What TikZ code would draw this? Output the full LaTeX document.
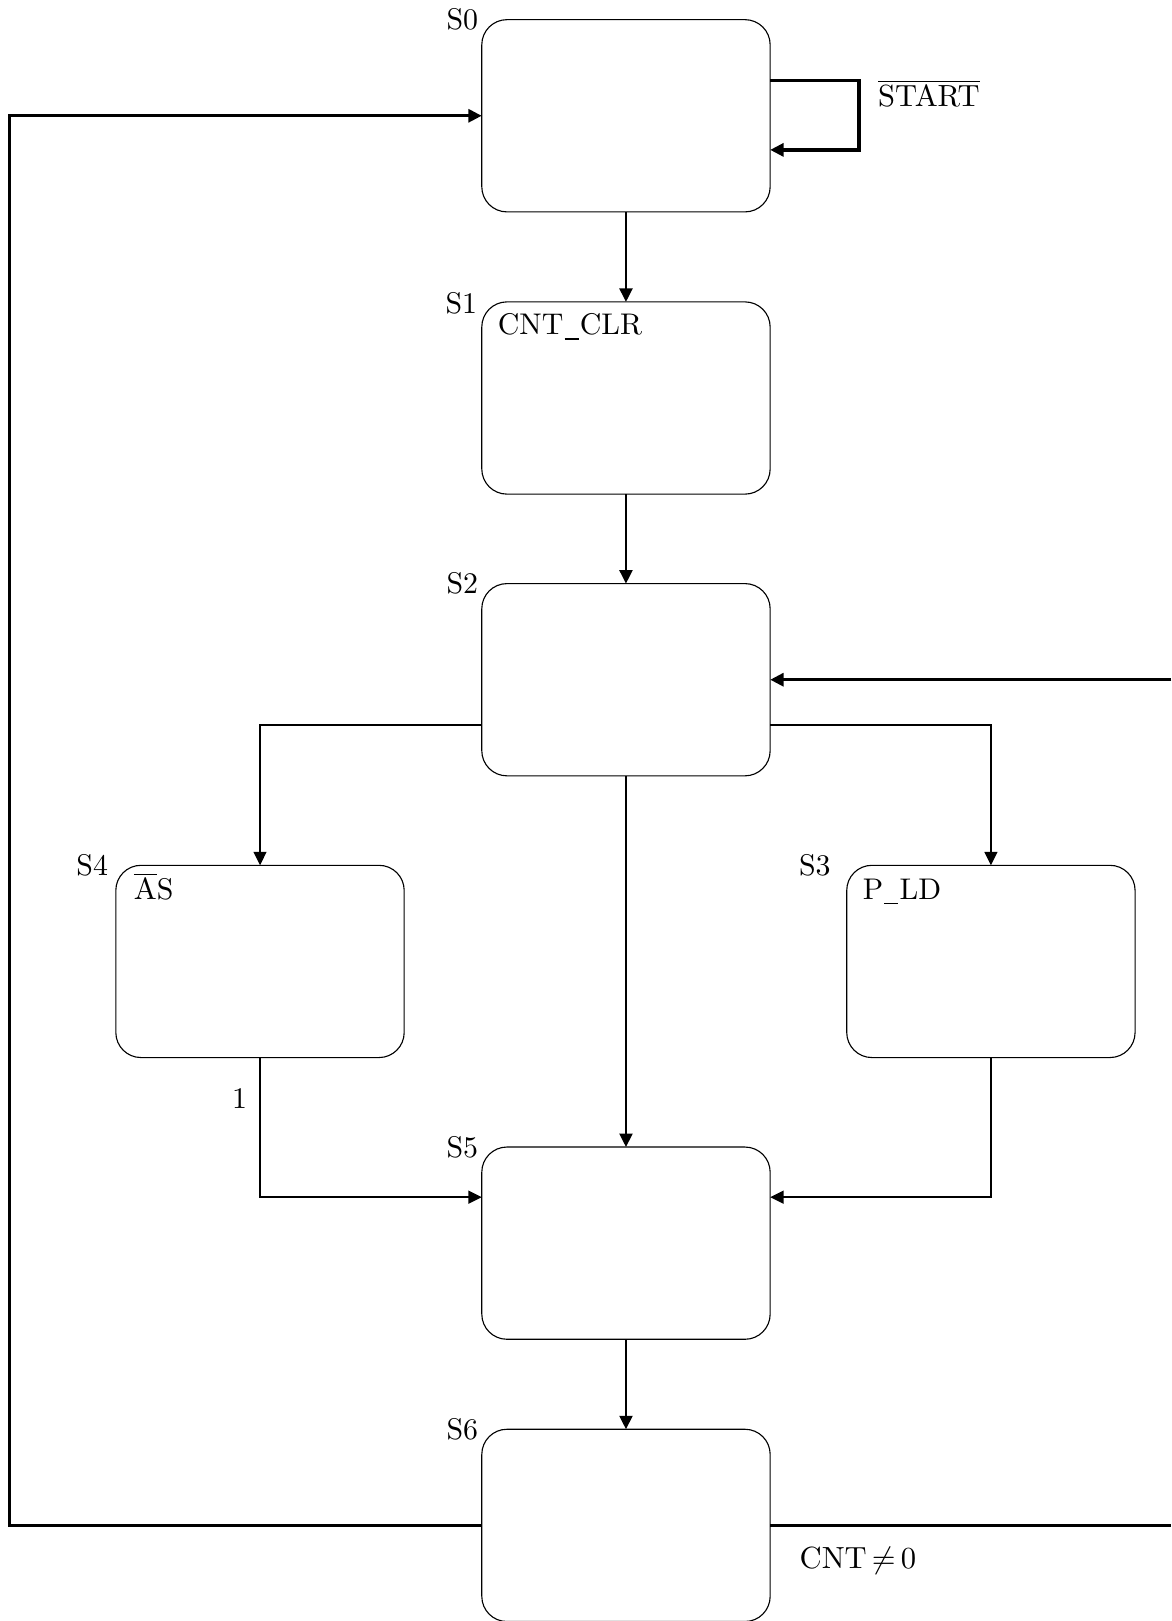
\documentclass[tikz,border=0pt]{standalone}
\usetikzlibrary{arrows.meta,calc}
\newcommand{\usbar}{\kern0.04em\rule[-1.7pt]{0.47em}{0.45pt}\kern0.04em}
\tikzset{
  every node/.style={font=\fontsize{10.7pt}{13pt}\selectfont},
  statebox/.style={draw, line width=0.4pt, rounded corners=9pt, minimum width=103.2pt, minimum height=68.8pt, inner sep=0pt, outer sep=0pt},
  slabel/.style={anchor=base east, inner sep=0pt},
  intext/.style={anchor=base west, inner sep=0pt},
  tip/.style={-{Triangle[length=4.8pt,width=4.6pt]}},
  loopline/.style={line width=1.2pt},
  midline/.style={line width=0.9pt},
  thinline/.style={line width=0.6pt}
}
\begin{document}
\begin{tikzpicture}[x=0.37pt,y=-0.37pt]
\useasboundingbox (0,0) rectangle (1133,1568);
% states
\node[statebox] (s0) at (605.5,112) {};
\node[statebox] (s1) at (605.5,385) {};
\node[statebox] (s2) at (605.5,657.5) {};
\node[statebox] (s4) at (251.5,930) {};
\node[statebox] (s3) at (958.5,930) {};
\node[statebox] (s5) at (605.5,1202.5) {};
\node[statebox] (s6) at (605.5,1475.5) {};
% state names
\node[slabel] (l0) at ($(s0.north west)+(-3,10)$) {S0};
\node[slabel] (l1) at ($(s1.north west)+(-4,11)$) {S1};
\node[slabel] (l2) at ($(s2.north west)+(-3,10)$) {S2};
\node[slabel] (l4) at ($(s4.north west)+(-7,10)$) {S4};
\node[slabel] (l3) at ($(s3.north west)+(-15,10)$) {S3};
\node[slabel] (l5) at ($(s5.north west)+(-3,10)$) {S5};
\node[slabel] (l6) at ($(s6.north west)+(-3,10)$) {S6};
% inner texts
\node[intext] (t1) at ($(s1.north west)+(15,32)$) {CNT\usbar CLR};
\node[intext] (t4) at ($(s4.north west)+(17,33)$) {$\overline{\mathrm{A}}$S};
\node[intext] (t3) at ($(s3.north west)+(15,33)$) {P\usbar LD};
% self loop on S0
\coordinate (la) at ($(s0.east)+(86,-34)$);
\coordinate (lb) at ($(s0.east)+(86,33)$);
\draw[loopline,tip] ($(s0.east)+(0,-34)$) -- (la) -- (lb) -- ($(s0.east)+(0,33)$);
\node[intext] (tstart) at ($(la)+(18,25)$) {$\overline{\mathrm{START}}$};
% main vertical flow
\draw[midline,tip] (s0.south) -- (s1.north);
\draw[midline,tip] (s1.south) -- (s2.north);
\draw[midline,tip] (s2.south) -- (s5.north);
\draw[midline,tip] (s5.south) -- (s6.north);
% branches from S2
\draw[thinline,tip] ($(s2.west)+(0,43.5)$) -| (s4.north);
\draw[thinline,tip] ($(s2.east)+(0,43.5)$) -| (s3.north);
% joins into S5
\draw[thinline,tip] (s4.south) |- ($(s5.west)+(0,-44.5)$);
\draw[thinline,tip] (s3.south) |- ($(s5.east)+(0,-44.5)$);
\node[slabel] (t1b) at ($(s4.south)+(-12,49)$) {1};
% long loop back to S0
\coordinate (lc) at (9,112);
\draw[loopline,tip] (s6.west) -| (lc) -- (s0.west);
% loop back to S2 leaving the page
\coordinate (rtop) at (1133,657.5);
\coordinate (rbot) at (1133,1475.5);
\draw[loopline] (s6.east) -- (rbot);
\draw[loopline,tip] (rtop) -- (s2.east);
\node[intext] (tcnt) at ($(s6.east)+(28,41.5)$) {$\mathrm{CNT}\mkern-2mu\neq\mkern-2mu0$};
\end{tikzpicture}
\end{document}
